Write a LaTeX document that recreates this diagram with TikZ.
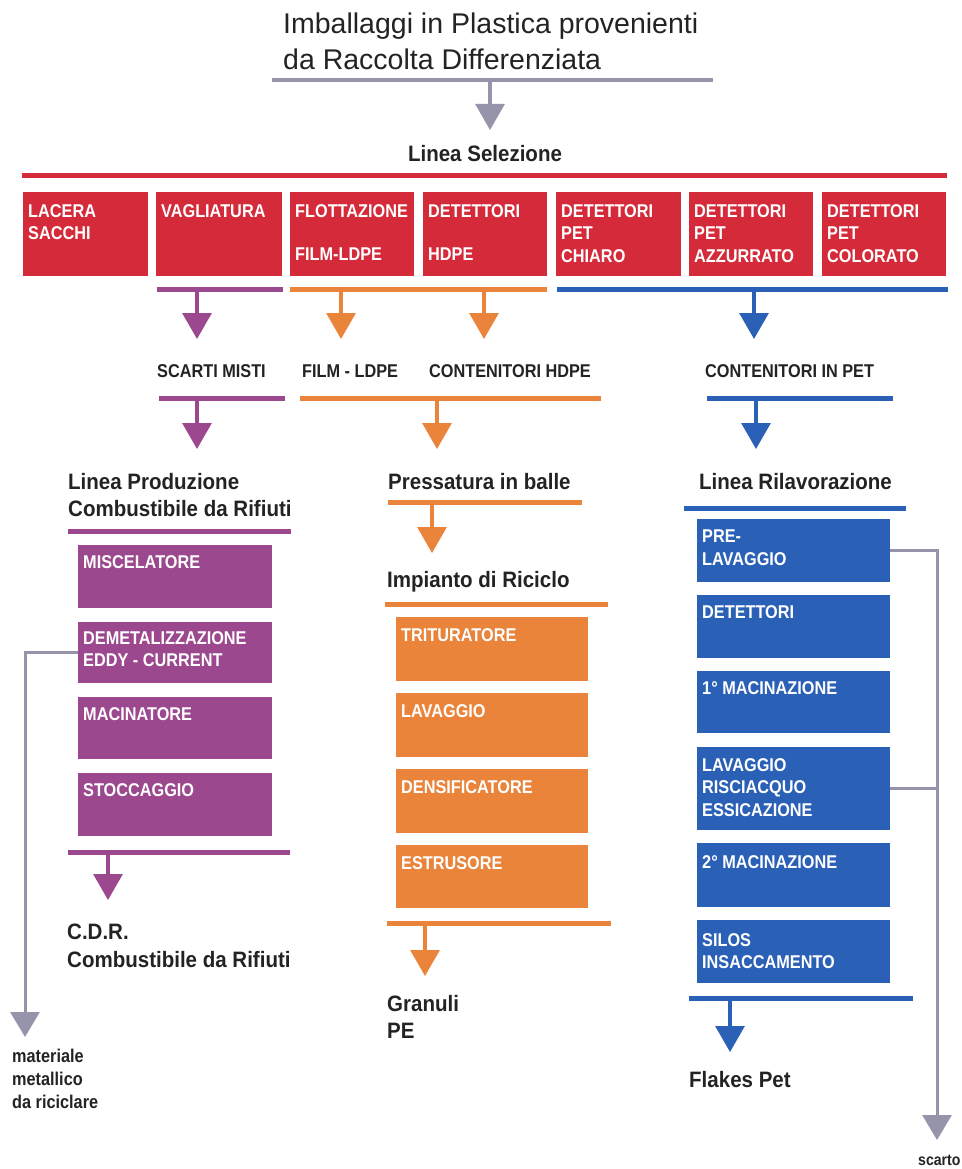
\documentclass[tikz,border=0pt]{standalone}
\usepackage{fontspec}
\setmainfont{Liberation Sans}
\newfontfamily\cnd{Liberation Sans}[FakeStretch=0.88]
\newfontfamily\cnh{Liberation Sans}[FakeStretch=0.92]
\usetikzlibrary{arrows.meta}
\definecolor{cred}{RGB}{212,42,58}
\definecolor{cpur}{RGB}{156,72,142}
\definecolor{corg}{RGB}{233,132,58}
\definecolor{cblu}{RGB}{42,96,182}
\definecolor{cgry}{RGB}{150,148,170}
\definecolor{ink}{RGB}{35,35,35}
\begin{document}
\begin{tikzpicture}[x=1pt,y=-1pt,
  bar/.style={fill=#1, draw=none, inner sep=0pt, minimum height=5pt, anchor=west},
  blk/.style={fill=#1, draw=none, inner sep=0pt, anchor=north west},
  btxt/.style={text=white, font=\cnd\bfseries\fontsize{18.5}{22.5}\selectfont, align=left, anchor=north west, inner sep=0pt},
  lab/.style={text=ink, font=\cnd\bfseries\fontsize{18.5}{20}\selectfont, anchor=base west, inner sep=0pt},
  hdr/.style={text=ink, font=\cnh\bfseries\fontsize{22.3}{27.5}\selectfont, align=left, anchor=north west, inner sep=0pt},
  small/.style={text=ink, font=\cnd\bfseries\fontsize{18.5}{23}\selectfont, align=left, anchor=north west, inner sep=0pt},
  arr/.style={draw=#1, line width=3.2pt, -{Triangle[width=29pt,length=26pt]}},
  gline/.style={draw=cgry, line width=3pt},
  garr/.style={draw=cgry, line width=3pt, -{Triangle[width=29pt,length=25pt]}}
]
\useasboundingbox[fill=white] (0,0) rectangle (961,1169);

% title
\node[text=ink, font=\fontsize{28.5}{36}\selectfont, align=left, anchor=north west, inner sep=0pt] (title) at (283,13)
  {Imballaggi in Plastica provenienti\\da Raccolta Differenziata};
\node[bar=cgry, minimum width=441, minimum height=4.5pt] (tb) at (272,80) {};
\coordinate (aT) at (490,130);
\draw[arr=cgry] (aT |- tb.center) -- (aT);

\node[text=ink, font=\cnh\bfseries\fontsize{22.3}{25}\selectfont, anchor=base, inner sep=0pt] (sel) at (485,162) {Linea Selezione};

% red bar and boxes
\node[bar=cred, minimum width=925] (rb) at (22,176) {};
\node[blk=cred, minimum width=125, minimum height=84] (r1) at (23,192) {};
\node[blk=cred, minimum width=126, minimum height=84] (r2) at (156,192) {};
\node[blk=cred, minimum width=124, minimum height=84] (r3) at (290,192) {};
\node[blk=cred, minimum width=124, minimum height=84] (r4) at (423,192) {};
\node[blk=cred, minimum width=125, minimum height=84] (r5) at (556,192) {};
\node[blk=cred, minimum width=124, minimum height=84] (r6) at (689,192) {};
\node[blk=cred, minimum width=124, minimum height=84] (r7) at (822,192) {};
\node[btxt] at ([shift={(5,12)}]r1.north west) {LACERA\\SACCHI};
\node[btxt] at ([shift={(5,12)}]r2.north west) {VAGLIATURA};
\node[btxt] at ([shift={(5,12)}]r3.north west) {FLOTTAZIONE\\[21pt]FILM-LDPE};
\node[btxt] at ([shift={(5,12)}]r4.north west) {DETETTORI\\[21pt]HDPE};
\node[btxt] at ([shift={(5,12)}]r5.north west) {DETETTORI\\PET\\CHIARO};
\node[btxt] at ([shift={(5,12)}]r6.north west) {DETETTORI\\PET\\AZZURRATO};
\node[btxt] at ([shift={(5,12)}]r7.north west) {DETETTORI\\PET\\COLORATO};

% level 1 bars and arrows
\node[bar=cpur, minimum width=126] (pb1) at (157,289) {};
\node[bar=corg, minimum width=257] (ob1) at (290,289) {};
\node[bar=cblu, minimum width=391] (bb1) at (557,289) {};
\coordinate (a1) at (197,339);
\coordinate (a2) at (341,339);
\coordinate (a3) at (484,339);
\coordinate (a4) at (754,339);
\draw[arr=cpur] (a1 |- pb1.center) -- (a1);
\draw[arr=corg] (a2 |- ob1.center) -- (a2);
\draw[arr=corg] (a3 |- ob1.center) -- (a3);
\draw[arr=cblu] (a4 |- bb1.center) -- (a4);

\node[lab] (sm) at (157,377) {SCARTI MISTI};
\node[lab] (fl) at (302,377) {FILM - LDPE};
\node[lab] (ch) at (429,377) {CONTENITORI HDPE};
\node[lab] (cp) at (705,377) {CONTENITORI IN PET};

% level 2 bars and arrows
\node[bar=cpur, minimum width=126] (pb2) at (159,398) {};
\node[bar=corg, minimum width=301] (ob2) at (300,398) {};
\node[bar=cblu, minimum width=186] (bb2) at (707,398) {};
\coordinate (c1) at (197,449);
\coordinate (c2) at (437,449);
\coordinate (c3) at (756,449);
\draw[arr=cpur] (c1 |- pb2.center) -- (c1);
\draw[arr=corg] (c2 |- ob2.center) -- (c2);
\draw[arr=cblu] (c3 |- bb2.center) -- (c3);

% headers
\node[hdr] (lp) at (68,473) {Linea Produzione\\Combustibile da Rifiuti};
\node[hdr] (pr) at (388,473) {Pressatura in balle};
\node[hdr] (lr) at (699,473) {Linea Rilavorazione};

% purple column
\node[bar=cpur, minimum width=223] (pb3) at (68,531) {};
\node[blk=cpur, minimum width=194, minimum height=63] (p1) at (78,545) {};
\node[blk=cpur, minimum width=194, minimum height=61] (p2) at (78,622) {};
\node[blk=cpur, minimum width=194, minimum height=62] (p3) at (78,697) {};
\node[blk=cpur, minimum width=194, minimum height=63] (p4) at (78,773) {};
\node[btxt] at ([shift={(5,10)}]p1.north west) {MISCELATORE};
\node[btxt] at ([shift={(5,9)}]p2.north west) {DEMETALIZZAZIONE\\EDDY - CURRENT};
\node[btxt] at ([shift={(5,10)}]p3.north west) {MACINATORE};
\node[btxt] at ([shift={(5,10)}]p4.north west) {STOCCAGGIO};
\node[bar=cpur, minimum width=222] (pb4) at (68,852) {};
\coordinate (d1) at (108,900);
\draw[arr=cpur] (d1 |- pb4.center) -- (d1);
\node[hdr] (cdr) at (67,924) {C.D.R.\\Combustibile da Rifiuti};

% metal connector
\coordinate (mm) at (25,1037);
\draw[garr] (p2.west) -| (mm);
\node[small] (mt) at (12,1049) {materiale\\metallico\\da riciclare};

% orange column
\node[bar=corg, minimum width=194] (ob3) at (388,502) {};
\coordinate (e1) at (432,553);
\draw[arr=corg] (e1 |- ob3.center) -- (e1);
\node[hdr] (ir) at (387,571) {Impianto di Riciclo};
\node[bar=corg, minimum width=223] (ob4) at (385,604) {};
\node[blk=corg, minimum width=192, minimum height=64] (o1) at (396,617) {};
\node[blk=corg, minimum width=192, minimum height=64] (o2) at (396,693) {};
\node[blk=corg, minimum width=192, minimum height=64] (o3) at (396,769) {};
\node[blk=corg, minimum width=192, minimum height=63] (o4) at (396,845) {};
\node[btxt] at ([shift={(5,11)}]o1.north west) {TRITURATORE};
\node[btxt] at ([shift={(5,11)}]o2.north west) {LAVAGGIO};
\node[btxt] at ([shift={(5,11)}]o3.north west) {DENSIFICATORE};
\node[btxt] at ([shift={(5,11)}]o4.north west) {ESTRUSORE};
\node[bar=corg, minimum width=224] (ob5) at (387,923) {};
\coordinate (e2) at (425,976);
\draw[arr=corg] (e2 |- ob5.center) -- (e2);
\node[hdr] (gr) at (387,995) {Granuli\\PE};

% blue column
\node[bar=cblu, minimum width=222] (bb3) at (684,508) {};
\node[blk=cblu, minimum width=193, minimum height=63] (b1) at (697,519) {};
\node[blk=cblu, minimum width=193, minimum height=63] (b2) at (697,595) {};
\node[blk=cblu, minimum width=193, minimum height=62] (b3) at (697,671) {};
\node[blk=cblu, minimum width=193, minimum height=83] (b4) at (697,747) {};
\node[blk=cblu, minimum width=193, minimum height=64] (b5) at (697,843) {};
\node[blk=cblu, minimum width=193, minimum height=63] (b6) at (697,920) {};
\node[btxt] at ([shift={(5,11)}]b1.north west) {PRE-\\LAVAGGIO};
\node[btxt] at ([shift={(5,10)}]b2.north west) {DETETTORI};
\node[btxt] at ([shift={(5,10)}]b3.north west) {1° MACINAZIONE};
\node[btxt] at ([shift={(5,11)}]b4.north west) {LAVAGGIO\\RISCIACQUO\\ESSICAZIONE};
\node[btxt] at ([shift={(5,12)}]b5.north west) {2° MACINAZIONE};
\node[btxt] at ([shift={(5,13)}]b6.north west) {SILOS\\INSACCAMENTO};
\node[bar=cblu, minimum width=224] (bb4) at (689,998) {};
\coordinate (f1) at (730,1052);
\draw[arr=cblu] (f1 |- bb4.center) -- (f1);
\node[text=ink, font=\cnh\bfseries\fontsize{22.3}{25}\selectfont, anchor=base west, inner sep=0pt] (fp) at (689,1087) {Flakes Pet};

% scarto connector
\coordinate (sc) at (937,1140);
\draw[garr] (b1.east) -| (sc);
\draw[gline] (b4.east) -- (b4.east -| sc);
\node[text=ink, font=\cnd\bfseries\fontsize{16}{17}\selectfont, anchor=base west, inner sep=0pt] (st) at (918,1165) {scarto};
\end{tikzpicture}
\end{document}
